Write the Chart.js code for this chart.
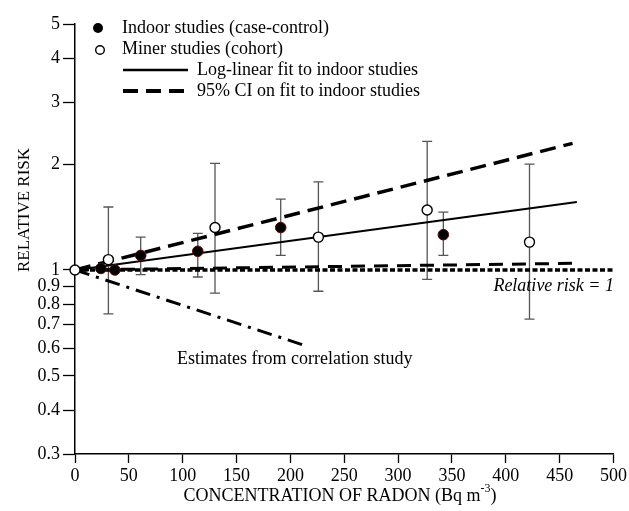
<!DOCTYPE html>
<html><head><meta charset="utf-8">
<script src="https://cdn.jsdelivr.net/npm/chart.js@4.4.1/dist/chart.umd.min.js"></script>
<style>html,body{margin:0;padding:0;background:#fff;overflow:hidden}#wrap{width:629px;height:511px}</style>
</head><body><div id="wrap"><canvas id="c" width="629" height="511"></canvas></div>
<script>
// ---- data ----
const indoorX  = [24, 37, 61, 114, 191, 342];
const indoorRR = [1.01, 1.0, 1.10, 1.13, 1.32, 1.26];
const indoorLo = [null, null, 0.97, 0.955, 1.10, 1.10];
const indoorHi = [null, null, 1.24, 1.27, 1.59, 1.46];

const minerX  = [0, 31, 130, 226, 327, 422];
const minerRR = [1.0, 1.07, 1.32, 1.24, 1.48, 1.20];
const minerLo = [null, 0.75, 0.86, 0.87, 0.94, 0.725];
const minerHi = [null, 1.51, 2.01, 1.78, 2.32, 2.0];

const fitX = [0, 466];      const fitRR = [1.0, 1.56];
const ciUpX = [0, 462];     const ciUpRR = [1.0, 2.29];
const ciLoX = [0, 467];     const ciLoRR = [1.0, 1.045];
const refX = [0, 500];      const refRR = [1, 1];
const corrX = [0, 217];     const corrRR = [1.0, 0.605];

const xTicks = [0, 50, 100, 150, 200, 250, 300, 350, 400, 450, 500];
const yTicks = [0.3, 0.4, 0.5, 0.6, 0.7, 0.8, 0.9, 1, 2, 3, 4, 5];

const legendLabels = ['Indoor studies (case-control)', 'Miner studies (cohort)',
  'Log-linear fit to indoor studies', '95% CI on fit to indoor studies'];
const xTitle = 'CONCENTRATION OF RADON (Bq m';
const xTitleSup = '-3';
const yTitle = 'RELATIVE RISK';
const refLabel = 'Relative risk = 1';
const corrLabel = 'Estimates from correlation study';

const FONT = "'Liberation Serif', 'Times New Roman', serif";
const pts = (xs, ys) => xs.map((v, i) => ({x: v, y: ys[i]}));

const errorBars = {
  id: 'errorBars',
  beforeDatasetsDraw(chart) {
    const {ctx, scales: {x, y}} = chart;
    ctx.save();
    ctx.strokeStyle = '#555';
    ctx.lineWidth = 1.3;
    const draw = (xs, lo, hi) => xs.forEach((xv, i) => {
      if (lo[i] == null) return;
      const px = x.getPixelForValue(xv);
      const p1 = y.getPixelForValue(lo[i]);
      const p2 = y.getPixelForValue(hi[i]);
      ctx.beginPath();
      ctx.moveTo(px, p1); ctx.lineTo(px, p2);
      ctx.moveTo(px - 5, p1); ctx.lineTo(px + 5, p1);
      ctx.moveTo(px - 5, p2); ctx.lineTo(px + 5, p2);
      ctx.stroke();
    });
    draw(indoorX, indoorLo, indoorHi);
    draw(minerX, minerLo, minerHi);
    ctx.restore();
  }
};

const annotations = {
  id: 'annotations',
  afterDraw(chart) {
    const {ctx} = chart;
    ctx.save();
    ctx.fillStyle = '#000';
    ctx.font = '18px ' + FONT;
    ctx.textBaseline = 'middle';
    ctx.textAlign = 'left';
    // legend
    ctx.beginPath(); ctx.arc(98, 28, 5, 0, Math.PI * 2); ctx.fill();
    ctx.beginPath(); ctx.arc(100, 50, 4.3, 0, Math.PI * 2);
    ctx.fillStyle = '#fff'; ctx.fill(); ctx.lineWidth = 1.4; ctx.strokeStyle = '#000'; ctx.stroke();
    ctx.fillStyle = '#000';
    ctx.fillText(legendLabels[0], 122, 28);
    ctx.fillText(legendLabels[1], 122, 49);
    ctx.lineWidth = 2.4;
    ctx.beginPath(); ctx.moveTo(123, 70); ctx.lineTo(188, 70); ctx.stroke();
    ctx.fillText(legendLabels[2], 197, 70);
    ctx.lineWidth = 4; ctx.setLineDash([15, 8]);
    ctx.beginPath(); ctx.moveTo(123, 91); ctx.lineTo(185, 91); ctx.stroke();
    ctx.setLineDash([]);
    ctx.fillText(legendLabels[3], 197, 91);
    // in-plot labels
    ctx.font = 'italic 18px ' + FONT;
    ctx.textAlign = 'right';
    ctx.fillText(refLabel, 614, 286);
    ctx.font = '18px ' + FONT;
    ctx.textAlign = 'left';
    ctx.fillText(corrLabel, 177, 359);
    // x title with superscript
    const w1 = ctx.measureText(xTitle).width;
    ctx.font = '12px ' + FONT;
    const w2 = ctx.measureText(xTitleSup).width;
    ctx.font = '18px ' + FONT;
    const w3 = ctx.measureText(')').width;
    const total = w1 + w2 + w3;
    let sx = 340 - total / 2;
    ctx.fillText(xTitle, sx, 496);
    ctx.font = '12px ' + FONT;
    ctx.fillText(xTitleSup, sx + w1, 489);
    ctx.font = '18px ' + FONT;
    ctx.fillText(')', sx + w1 + w2, 496);
    // y title
    ctx.font = '17px ' + FONT;
    ctx.translate(25, 210);
    ctx.rotate(-Math.PI / 2);
    ctx.textAlign = 'center';
    ctx.fillText(yTitle, 0, 0);
    ctx.restore();
  }
};

new Chart(document.getElementById('c'), {
  type: 'scatter',
  data: {
    datasets: [
      {data: pts(indoorX, indoorRR), pointRadius: 5.3, pointBackgroundColor: '#000', pointBorderColor: '#5a0a0a', pointBorderWidth: 1, showLine: false, order: 1, clip: false},
      {data: pts(minerX, minerRR), pointRadius: 5, pointBackgroundColor: '#fff', pointBorderColor: '#000', pointBorderWidth: 1.4, showLine: false, order: 0, clip: false},
      {data: pts(fitX, fitRR), showLine: true, borderColor: '#000', borderWidth: 2.2, pointRadius: 0, order: 5},
      {data: pts(ciUpX, ciUpRR), showLine: true, borderColor: '#000', borderWidth: 3.5, borderDash: [16, 8], pointRadius: 0, order: 6},
      {data: pts(ciLoX, ciLoRR), showLine: true, borderColor: '#000', borderWidth: 3, borderDash: [14, 9], pointRadius: 0, order: 7},
      {data: pts(refX, refRR), showLine: true, borderColor: '#000', borderWidth: 3.5, borderDash: [5, 2.5], pointRadius: 0, order: 4},
      {data: pts(corrX, corrRR), showLine: true, borderColor: '#000', borderWidth: 3, borderDash: [15, 7, 3, 7], pointRadius: 0, order: 8}
    ]
  },
  options: {
    responsive: false,
    animation: false,
    devicePixelRatio: 1,
    layout: {padding: {top: 24, right: 15, left: 0, bottom: 0}},
    plugins: {legend: {display: false}, tooltip: {enabled: false}},
    scales: {
      x: {
        type: 'linear', min: 0, max: 500,
        afterBuildTicks: s => { s.ticks = xTicks.map(v => ({value: v})); },
        afterFit: s => { s.height = 57; },
        ticks: {color: '#000', font: {family: FONT, size: 18}, padding: 2, maxRotation: 0, autoSkip: false},
        grid: {drawOnChartArea: false, drawTicks: true, tickLength: 9, tickColor: '#000', tickWidth: 1.3},
        border: {display: true, color: '#000', width: 1.5}
      },
      y: {
        type: 'logarithmic', min: 0.3, max: 5,
        afterBuildTicks: s => { s.ticks = yTicks.map(v => ({value: v})); },
        afterFit: s => { s.width = 75; },
        ticks: {color: '#000', font: {family: FONT, size: 18}, padding: 3, autoSkip: false, callback: v => String(v)},
        grid: {drawOnChartArea: false, drawTicks: true, tickLength: 12, tickColor: '#000', tickWidth: 1.3},
        border: {display: true, color: '#000', width: 1.5}
      }
    }
  },
  plugins: [errorBars, annotations]
});
</script>
</body></html>
